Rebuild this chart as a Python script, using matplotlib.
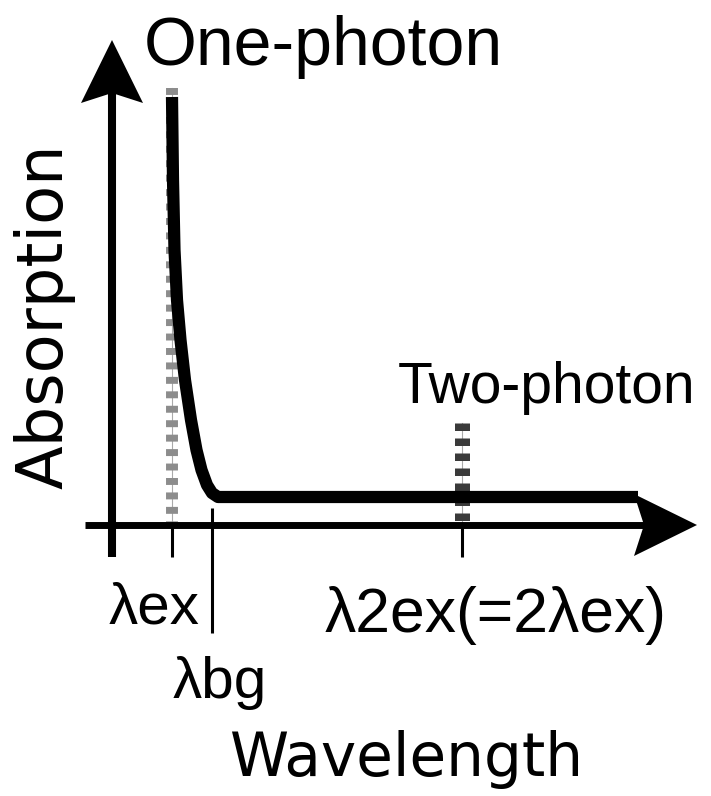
import matplotlib.pyplot as plt

plt.rcParams['lines.scale_dashes'] = False

# wavelength marks (arbitrary units, y-axis at 0)
lam_ex = 0.60
lam_bg = 1.00
lam_2ex = 3.50

# absorption curve
wl_curve = [0.60, 0.61, 0.625, 0.65, 0.685, 0.73, 0.79, 0.845, 0.895, 0.95,
            1.00, 1.06, 5.26]
abs_curve = [4.28, 3.45, 2.75, 2.25, 1.85, 1.45, 1.05, 0.75, 0.55, 0.40,
             0.32, 0.28, 0.28]

# excitation bars (dashed)
one_photon_top = 4.37
two_photon_top = 1.02

x_axis_range = (-0.27, 5.85)
y_axis_range = (-0.32, 4.85)

narrow = ['Liberation Sans', 'DejaVu Sans']
wide = ['DejaVu Sans']

fig = plt.figure(figsize=(7.11, 7.96), dpi=100)
ax = fig.add_axes([0, 0, 1, 1])
ax.set_xlim(-1.12, 5.99)
ax.set_ylim(-2.71, 5.25)
ax.axis('off')

# dashed excitation lines
ax.plot([lam_ex, lam_ex], [one_photon_top, 0.03], color='#aaaaaa', lw=0.8, zorder=1)
ax.plot([lam_ex, lam_ex], [one_photon_top, 0.03], color='#8c8c8c', lw=8.6,
        dashes=(5.0, 5.4), dash_capstyle='butt', zorder=2)
ax.plot([lam_2ex, lam_2ex], [two_photon_top, 0.03], color='#aaaaaa', lw=0.8, zorder=1)
ax.plot([lam_2ex, lam_2ex], [two_photon_top, 0.03], color='#3a3a3a', lw=10.8,
        dashes=(5.4, 5.4), dash_capstyle='butt', zorder=2)

# absorption curve
ax.plot(wl_curve, abs_curve, color='black', lw=8.8, solid_capstyle='butt',
        solid_joinstyle='round', zorder=3)

# axes with arrow heads
head_len, head_w, notch = 0.63, 0.31, 0.10
ax.plot([0, 0], [y_axis_range[0], y_axis_range[1] - head_len + notch],
        color='black', lw=5.8, solid_capstyle='butt', zorder=4)
ytip = y_axis_range[1]
ax.fill([0, head_w, 0, -head_w], [ytip, ytip - head_len, ytip - head_len + notch, ytip - head_len],
        color='black', lw=0, zorder=4)
ax.plot([x_axis_range[0], x_axis_range[1] - head_len + notch], [0, 0],
        color='black', lw=5.0, solid_capstyle='butt', zorder=4)
xtip = x_axis_range[1]
ax.fill([xtip, xtip - head_len, xtip - head_len + notch, xtip - head_len], [0, head_w, 0, -head_w],
        color='black', lw=0, zorder=4)

# ticks
ax.plot([lam_ex, lam_ex], [0, -0.32], color='black', lw=2.2, solid_capstyle='butt', zorder=4)
ax.plot([lam_2ex, lam_2ex], [0, -0.32], color='black', lw=2.2, solid_capstyle='butt', zorder=4)
ax.plot([lam_bg, lam_bg], [0.17, -1.08], color='black', lw=2.2, solid_capstyle='butt', zorder=4)

# labels
ax.text(2.11, 4.60, 'One-photon', ha='center', va='baseline', fontsize=49, family=narrow)
ax.text(4.35, 1.22, 'Two-photon', ha='center', va='baseline', fontsize=41, family=narrow)
ax.text(0.42, -0.98, 'λex', ha='center', va='baseline', fontsize=42, family=narrow)
ax.text(1.08, -1.73, 'λbg', ha='center', va='baseline', fontsize=42, family=narrow)
ax.text(3.835, -1.07, 'λ2ex(=2λex)', ha='center', va='baseline', fontsize=45, family=narrow)
ax.text(2.945, -2.51, 'Wavelength', ha='center', va='baseline', fontsize=43, family=wide)
ax.text(-0.49, 2.085, 'Absorption', ha='center', va='baseline', rotation=90,
        rotation_mode='anchor', fontsize=46, family=wide)

fig.savefig('out.png', dpi=100)
plt.close()
